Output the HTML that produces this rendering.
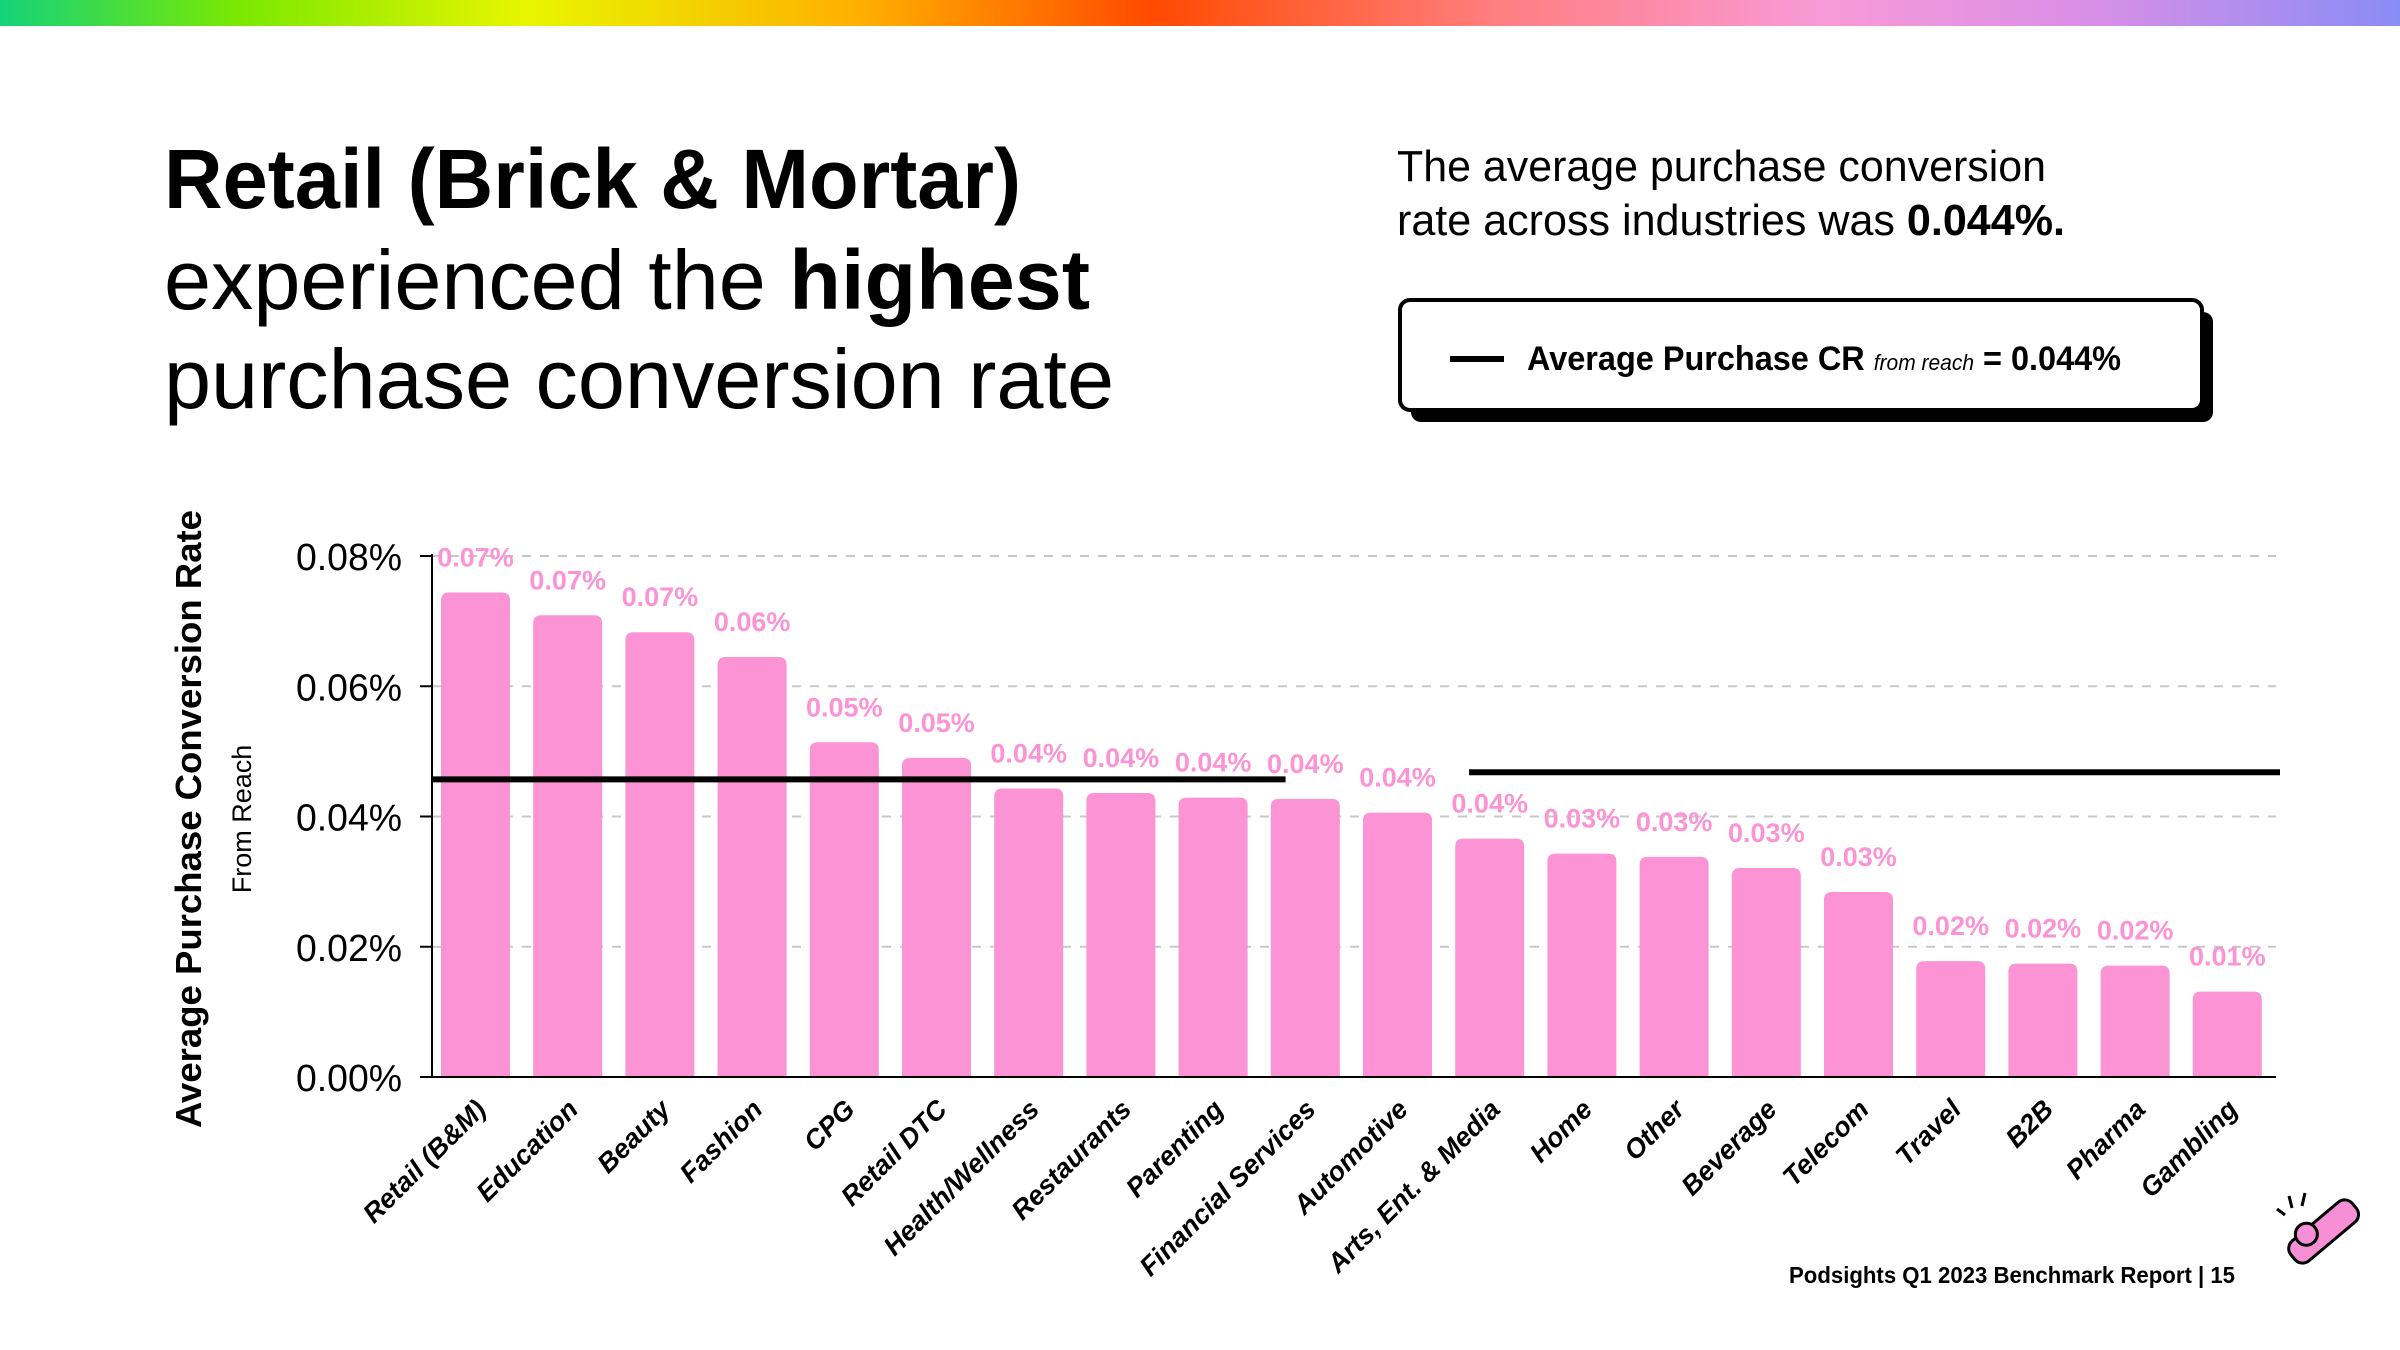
<!DOCTYPE html>
<html><head><meta charset="utf-8"><style>
html,body{margin:0;padding:0;background:#fff;}
svg{display:block;font-family:"Liberation Sans",sans-serif;}
</style></head><body>
<svg id="chart" width="2400" height="1350" viewBox="0 0 2400 1350">
<defs><linearGradient id="rb" x1="0" x2="1" y1="0" y2="0">
<stop offset="0" stop-color="#14d27a"/><stop offset="0.1" stop-color="#7be800"/><stop offset="0.22" stop-color="#e8f500"/><stop offset="0.36" stop-color="#ffae00"/><stop offset="0.48" stop-color="#ff4a00"/><stop offset="0.62" stop-color="#ff7d7d"/><stop offset="0.76" stop-color="#f89ad8"/><stop offset="0.87" stop-color="#d98fe6"/><stop offset="1" stop-color="#8a8cf5"/></linearGradient></defs>
<rect x="0" y="0" width="2400" height="26" fill="url(#rb)"/>
<g font-size="84" fill="#000">
<text x="164" y="208" font-weight="bold" textLength="857" lengthAdjust="spacingAndGlyphs">Retail (Brick &amp; Mortar)</text>
<text x="164" y="309" textLength="926" lengthAdjust="spacingAndGlyphs">experienced the <tspan font-weight="bold">highest</tspan></text>
<text x="164" y="408" textLength="950" lengthAdjust="spacingAndGlyphs">purchase conversion rate</text>
</g>
<g font-size="44" fill="#000">
<text x="1397" y="181" textLength="649" lengthAdjust="spacingAndGlyphs">The average purchase conversion</text>
<text x="1397" y="235" textLength="668" lengthAdjust="spacingAndGlyphs">rate across industries was <tspan font-weight="bold">0.044%.</tspan></text>
</g>
<g>
<rect x="1411" y="312" width="802" height="110" rx="10" fill="#000"/>
<rect x="1400" y="300" width="802" height="110" rx="10" fill="#fff" stroke="#000" stroke-width="4"/>
<rect x="1450" y="356" width="54" height="6" fill="#000"/>
<text x="1527" y="370" font-size="34" font-weight="bold" textLength="594" lengthAdjust="spacingAndGlyphs">Average Purchase CR <tspan font-size="22" font-style="italic" font-weight="normal">from reach</tspan> = 0.044%</text>
</g>
<g>
<text transform="translate(201,819) rotate(-90)" text-anchor="middle" font-size="36" font-weight="bold" textLength="618" lengthAdjust="spacingAndGlyphs">Average Purchase Conversion Rate</text>
<text transform="translate(251,819) rotate(-90)" text-anchor="middle" font-size="27">From Reach</text>
</g>
<g id="plot"></g>
<text x="2235" y="1283" text-anchor="end" font-size="23" font-weight="bold" textLength="446" lengthAdjust="spacingAndGlyphs">Podsights Q1 2023 Benchmark Report | 15</text>
<g transform="translate(2300,1250) rotate(-40)">
<rect x="-10" y="-12" width="80" height="26" rx="10" fill="#f78fd6" stroke="#000" stroke-width="3"/>
<circle cx="15" cy="-8" r="11" fill="#f78fd6" stroke="#000" stroke-width="3"/>
</g>
<g stroke="#000" stroke-width="3"><line x1="2292" y1="1208" x2="2289" y2="1196"/><line x1="2302" y1="1206" x2="2305" y2="1193"/><line x1="2285" y1="1215" x2="2277" y2="1209"/></g>
</svg>
<script>
const categories=["Retail (B&M)","Education","Beauty","Fashion","CPG","Retail DTC","Health/Wellness","Restaurants","Parenting","Financial Services","Automotive","Arts, Ent. & Media","Home","Other","Beverage","Telecom","Travel","B2B","Pharma","Gambling"];
const values=[0.0744,0.0709,0.0683,0.0645,0.0514,0.0490,0.0443,0.0436,0.0429,0.0427,0.0406,0.0366,0.0343,0.0338,0.0321,0.0284,0.0178,0.0174,0.0171,0.0131];
const valueLabels=["0.07%","0.07%","0.07%","0.06%","0.05%","0.05%","0.04%","0.04%","0.04%","0.04%","0.04%","0.04%","0.03%","0.03%","0.03%","0.03%","0.02%","0.02%","0.02%","0.01%"];
const yTicks=[0,0.02,0.04,0.06,0.08];
const yTickLabels=["0.00%","0.02%","0.04%","0.06%","0.08%"];
const avgSegments=[[0,9.16,0.0457],[11.15,20,0.0468]];
const NS="http://www.w3.org/2000/svg";
const plot=document.getElementById('plot');
const X0=432,X1=2276,Y0=1077,Y1=556,firstX=441,pitch=92.2,barW=69;
const y=v=>Y0-(v-0)/(0.08)*(Y0-Y1);
const xb=i=>firstX+i*pitch;
function mk(t,a){const e=document.createElementNS(NS,t);for(const k in a)e.setAttribute(k,a[k]);plot.appendChild(e);return e;}
yTicks.forEach((t,i)=>{
 if(t>0){const g=mk('line',{x1:X0,x2:X1,y1:y(t),y2:y(t),stroke:'#c8c8c8','stroke-width':2,'stroke-dasharray':'9 9'});
 
 }
 const tk=mk('line',{x1:X0-12,x2:X0,y1:y(t),y2:y(t),stroke:'#000','stroke-width':2});
 
 
 const l=mk('text',{x:X0-braceless(),y:y(t)+14,'text-anchor':'end','font-size':38,textLength:106,lengthAdjust:'spacingAndGlyphs'});
 l.textContent=yTickLabels[i];
 
 
});
function braceless(){return 30;}
const ax=mk('line',{x1:X0,x2:X0,y1:Y1-2,y2:Y0,stroke:'#000','stroke-width':2});


values.forEach((v,i)=>{
 const x=xb(i),top=y(v);
 const b=mk('path',{d:`M${x},${Y0}V${top+8}Q${x},${top} ${x+8},${top}H${x+barW-8}Q${x+barW},${top} ${x+barW},${top+8}V${Y0}Z`,fill:'#fb93d4'});
 
 
 const t=mk('text',{x:x+barW/2,y:top-26,'text-anchor':'middle','font-size':27,'font-weight':'bold',fill:'#fb93d4'});
 t.textContent=valueLabels[i];
 
 
 const c=mk('text',{transform:`translate(${x+barW/2+12},${Y0+34}) rotate(-45)`,'text-anchor':'end','font-size':27,'font-weight':'bold','font-style':'italic'});
 c.textContent=categories[i];
 
 
});
const xa=mk('line',{x1:X0,x2:X1,y1:Y0,y2:Y0,stroke:'#000','stroke-width':2});


avgSegments.forEach(s=>{
 const x1=s[0]===0?X0:xb(s[0]),x2=s[1]>=20?X1+4:xb(s[1]);
 const l=mk('line',{x1:x1,x2:x2,y1:y(s[2]),y2:y(s[2]),stroke:'#000','stroke-width':6});
 
 
});
</script>
</body></html>
